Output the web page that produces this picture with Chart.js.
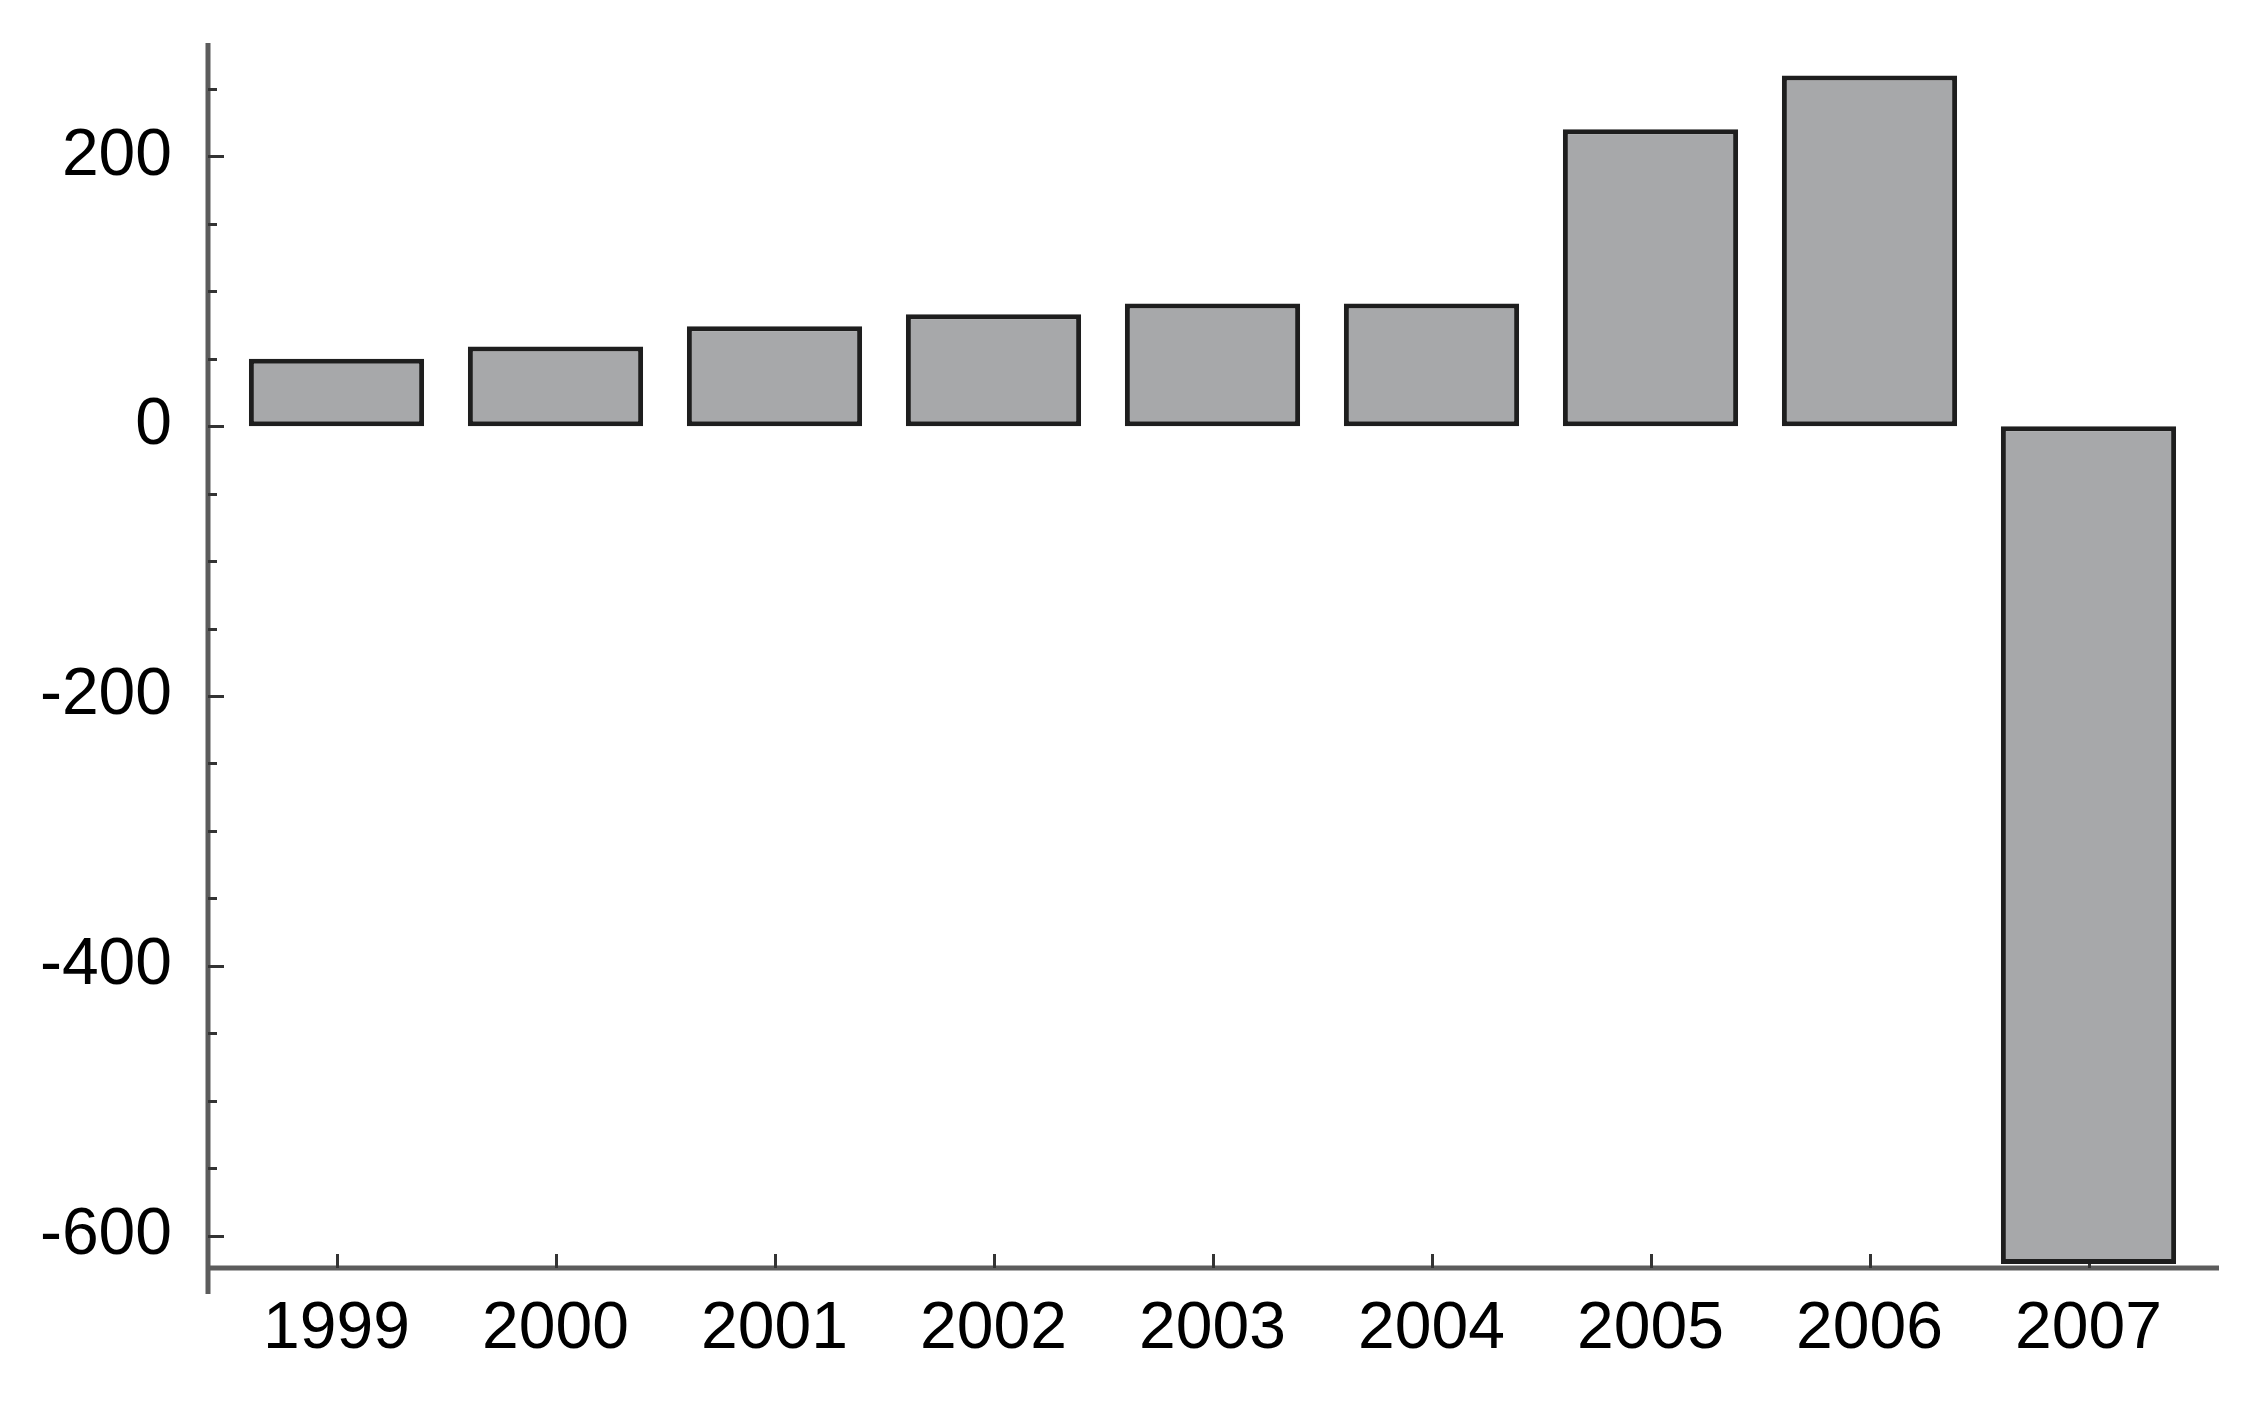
<!DOCTYPE html>
<html>
<head>
<meta charset="utf-8">
<script src="https://cdn.jsdelivr.net/npm/chart.js@4.4.1/dist/chart.umd.min.js"></script>
<style>
  html, body { margin: 0; padding: 0; background: #fff; }
  #chart { display: block; }
</style>
</head>
<body>
<canvas id="chart" width="2247" height="1423"></canvas>
<script>
const years = ["1999", "2000", "2001", "2002", "2003", "2004", "2005", "2006", "2007"];
const values = [50, 59, 74, 83, 91, 91, 220, 260, -621];
const yTickValues = [-600, -400, -200, 0, 200];
const yMin = -624;
const yMax = 284;
const minorStep = 50;

const axisColor = "#5c5c5c";
const axisGap = 19;

// axis lines and tick marks drawn like the original plot
const axesPlugin = {
  id: "axesLines",
  beforeDatasetsDraw(chart) {
    const ctx = chart.ctx;
    const area = chart.chartArea;
    const x = chart.scales.x;
    const y = chart.scales.y;
    const axisX = area.left - axisGap;
    ctx.save();
    ctx.strokeStyle = axisColor;
    ctx.lineWidth = 5;
    ctx.beginPath();
    ctx.moveTo(axisX, area.top);
    ctx.lineTo(axisX, area.bottom + 26);
    ctx.moveTo(axisX, area.bottom);
    ctx.lineTo(area.right + axisGap + 2, area.bottom);
    ctx.stroke();

    ctx.lineWidth = 3;
    ctx.strokeStyle = "#333";
    ctx.beginPath();
    for (let v = yTickValues[0]; v <= yMax; v += minorStep) {
      const py = Math.round(y.getPixelForValue(v)) + 0.5;
      const len = yTickValues.includes(v) ? 16 : 9;
      ctx.moveTo(axisX, py);
      ctx.lineTo(axisX + len, py);
    }
    years.forEach((label, i) => {
      const px = Math.round(x.getPixelForValue(i)) + 0.5;
      ctx.moveTo(px, area.bottom);
      ctx.lineTo(px, area.bottom - 14);
    });
    ctx.stroke();
    ctx.restore();
  }
};

const noScalePadding = (scale) => {
  scale.paddingTop = 0;
  scale.paddingBottom = 0;
  scale.paddingLeft = 0;
  scale.paddingRight = 0;
};

Chart.defaults.font.family = "'Liberation Sans', Arial, Helvetica, sans-serif";
Chart.defaults.font.size = 66;
Chart.defaults.color = "#000";

new Chart(document.getElementById("chart"), {
  type: "bar",
  data: {
    labels: years,
    datasets: [{
      data: values,
      backgroundColor: "#a7a8aa",
      borderColor: "#1e1e1e",
      borderWidth: 5,
      borderSkipped: false,
      categoryPercentage: 1,
      barPercentage: 0.8
    }]
  },
  plugins: [axesPlugin],
  options: {
    responsive: false,
    animation: false,
    layout: { padding: { top: 43, right: 49, bottom: 0, left: 0 } },
    plugins: {
      legend: { display: false },
      tooltip: { enabled: false }
    },
    scales: {
      x: {
        grid: { display: false, drawTicks: false, tickLength: 0 },
        border: { display: false },
        ticks: { padding: 22, maxRotation: 0, autoSkip: false },
        afterFit(scale) {
          scale.height = 155;
          noScalePadding(scale);
        }
      },
      y: {
        min: yMin,
        max: yMax,
        grid: { display: false, drawTicks: false, tickLength: 0 },
        border: { display: false },
        ticks: { padding: 55, includeBounds: false },
        afterBuildTicks(scale) {
          scale.ticks = yTickValues.map((v) => ({ value: v }));
        },
        afterFit(scale) {
          scale.width = 227;
          noScalePadding(scale);
        }
      }
    }
  }
});
</script>
</body>
</html>
